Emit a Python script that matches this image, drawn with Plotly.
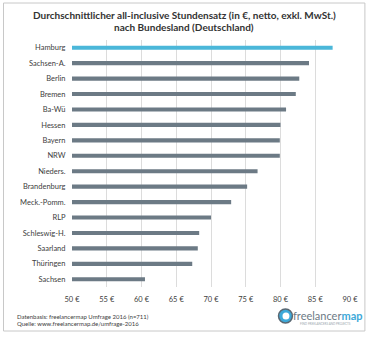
import plotly.graph_objects as go

states = ["Hamburg", "Sachsen-A.", "Berlin", "Bremen", "Ba-Wü", "Hessen", "Bayern", "NRW",
          "Nieders.", "Brandenburg", "Meck.-Pomm.", "RLP", "Schleswig-H.", "Saarland",
          "Thüringen", "Sachsen"]
rates = [87.5, 84.1, 82.7, 82.2, 80.8, 80.0, 79.9, 79.9,
         76.7, 75.2, 72.9, 70.0, 68.3, 68.1, 67.3, 60.5]
tick_vals = [50, 55, 60, 65, 70, 75, 80, 85, 90]
tick_text = ["50 €", "55 €", "60 €", "65 €", "70 €", "75 €", "80 €", "85 €", "90 €"]

W, H = 370, 338
ML, MR, MT, MB = 72, 18, 40, 51
PW, PH = W - ML - MR, H - MT - MB

def px(x):
    return (x - ML) / PW

def py(y):
    return 1 - (y - MT) / PH

colors = ["#4BB7D9" if s == "Hamburg" else "#6C7A85" for s in states]

fig = go.Figure(go.Bar(
    x=[r - 50 for r in rates], base=50, y=states, orientation="h",
    marker=dict(color=colors, line=dict(width=0)), width=0.27,
))

font = "Lato, Open Sans, sans-serif"
fig.update_layout(
    width=W, height=H, margin=dict(l=ML, r=MR, t=MT, b=MB),
    plot_bgcolor="white", paper_bgcolor="white", showlegend=False,
    bargap=0.7,
    xaxis=dict(range=[50, 90], tickvals=tick_vals, ticktext=tick_text,
               showgrid=True, gridcolor="#DCDCDC", gridwidth=1, zeroline=False,
               showline=False, ticks="outside", ticklen=5, tickcolor="rgba(0,0,0,0)",
               tickfont=dict(family=font, size=7.5, color="#404040")),
    yaxis=dict(categoryorder="array", categoryarray=states[::-1], autorange=True,
               showgrid=False, zeroline=False, showline=False,
               ticks="outside", ticklen=4, tickcolor="rgba(0,0,0,0)",
               tickfont=dict(family=font, size=7.5, color="#404040")),
    font=dict(family=font),
)

anns = [
    dict(text="<b>Durchschnittlicher all-inclusive Stundensatz (in €, netto, exkl. MwSt.)</b>",
         x=px(185), y=py(15.5), font=dict(size=10, color="#333333")),
    dict(text="<b>nach Bundesland (Deutschland)</b>",
         x=px(185), y=py(27), font=dict(size=10, color="#333333")),
    dict(text="Datenbasis: freelancermap Umfrage 2016 (n=711)", x=px(15), y=py(316),
         xanchor="left", font=dict(size=6, color="#404040")),
    dict(text="Quelle: www.freelancermap.de/umfrage-2016", x=px(15), y=py(323.5),
         xanchor="left", font=dict(size=6, color="#404040")),
    dict(text="<span style='color:#6C7A85'>freelancer</span><b><span style='color:#3DA9D9'>map</span></b>",
         x=px(293), y=py(315.5), xanchor="left", font=dict(size=11)),
    dict(text="FIND FREELANCERS AND PROJECTS", x=px(300), y=py(323.5), xanchor="left",
         font=dict(size=3, color="#9AA5AD")),
]
for a in anns:
    a.setdefault("xanchor", "center")
    fig.add_annotation(xref="paper", yref="paper", showarrow=False, yanchor="middle", **a)

shapes = [
    dict(type="rect", x0=px(3), x1=px(367), y0=py(3), y1=py(331),
         line=dict(color="#C8C8C8", width=1), fillcolor="rgba(0,0,0,0)"),
    dict(type="circle", x0=px(280), x1=px(294), y0=py(323), y1=py(309),
         fillcolor="#3DA9D9", line=dict(color="#5A6873", width=1.5)),
    dict(type="circle", x0=px(284), x1=px(291), y0=py(319.5), y1=py(312.5),
         fillcolor="white", line=dict(width=0)),
]
for s in shapes:
    fig.add_shape(xref="paper", yref="paper", **s)

fig.write_html("out.html")
